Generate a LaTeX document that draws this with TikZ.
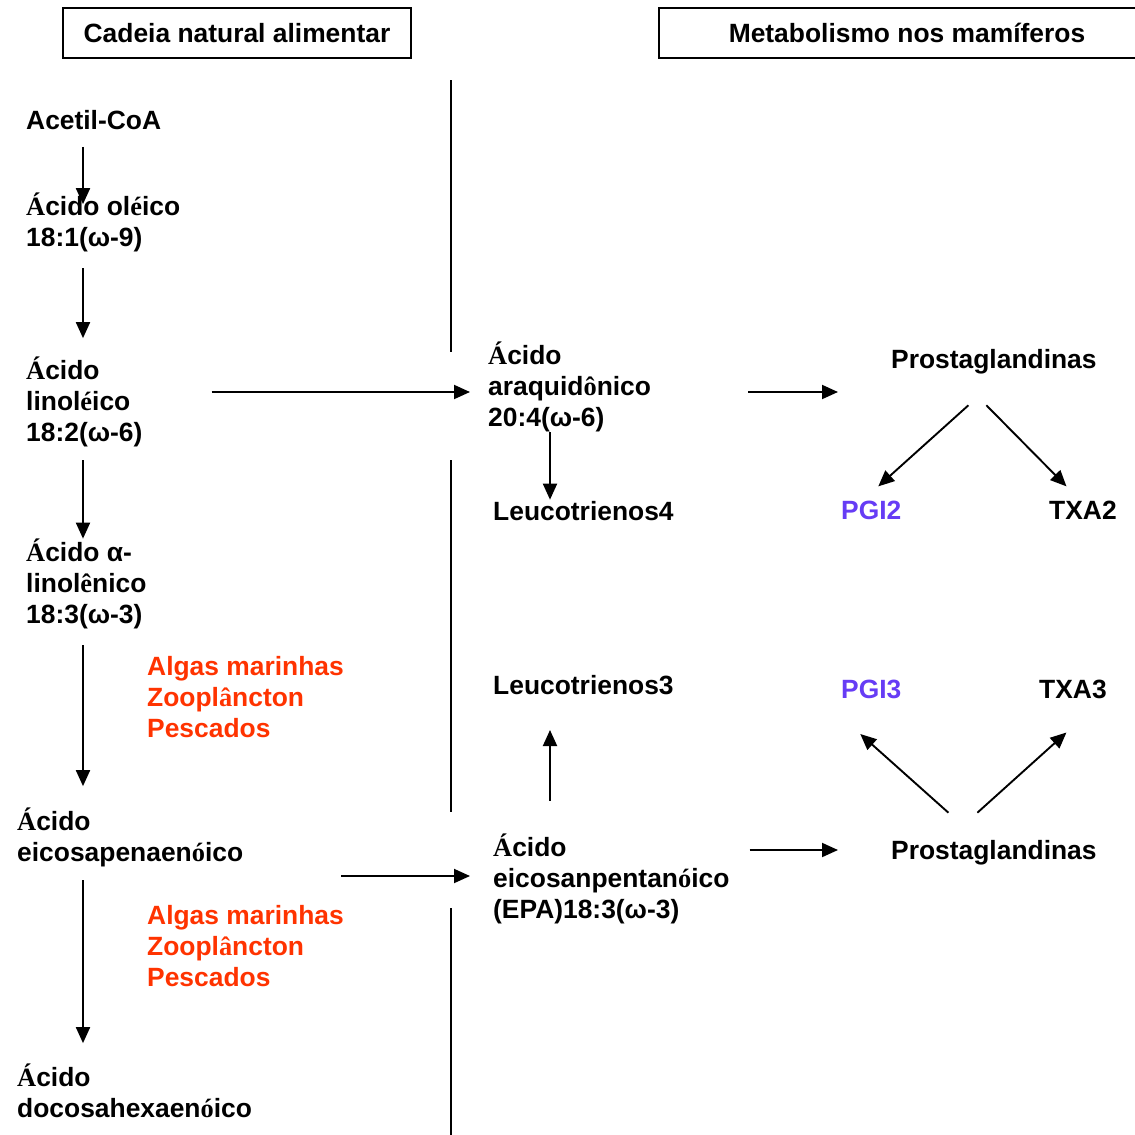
\documentclass[tikz,border=0pt]{standalone}
\usepackage{fontspec}
\setmainfont{Liberation Sans}
\newfontfamily\accfont{Liberation Serif}
\usetikzlibrary{arrows.meta}
\definecolor{fishred}{RGB}{255,51,0}
\definecolor{pgiblue}{RGB}{102,60,245}
\newcommand{\ac}[1]{{\accfont #1}}

\begin{document}
\begin{tikzpicture}[x=1pt, y=-1pt,
    every node/.style={font=\bfseries\fontsize{26.4}{31}\selectfont, inner sep=0pt},
    lbl/.style={anchor=base west, align=left},
    head/.style={draw, line width=1.3pt, minimum height=50pt},
    arr/.style={-{Triangle[length=16pt,width=14pt]}, line width=1.9pt},
    divider/.style={line width=1.4pt}]
  \useasboundingbox (0,0) rectangle (1135,1135);
  % Headers
  \node[head, minimum width=348pt] (hdleft) at (237,33) {Cadeia natural alimentar};
  \node[head, minimum width=496pt] (hdright) at (907,33) {Metabolismo nos mamíferos};
  % Divider
  \draw[divider] (451,80) -- (451,352);
  \draw[divider] (451,460) -- (451,812);
  \draw[divider] (451,908) -- (451,1135);
  % Helper rows and columns
  \coordinate (colA) at (83,0);
  \coordinate (colB) at (550,0);
  \coordinate (rowA) at (0,392);
  \coordinate (rowB) at (0,876);
  \coordinate (rowC) at (0,850);
  % Food chain (nodes sit on the baseline of their last line)
  \node[lbl] (acetil) at (26,129.5) {Acetil-CoA};
  \node[lbl] (oleico) at (26,246.5) {\ac{Á}cido ol\ac{é}ico\\18:1(ω-9)};
  \node[lbl] (linoleico) at (26,441.5) {\ac{Á}cido\\linol\ac{é}ico\\18:2(ω-6)};
  \node[lbl] (alfa) at (26,623.5) {\ac{Á}cido α-\\linol\ac{ê}nico\\18:3(ω-3)};
  \node[lbl, fishred] (srcA) at (147,737.5) {Algas marinhas\\Zoopl\ac{â}ncton\\Pescados};
  \node[lbl] (eicosa) at (17,861.5) {\ac{Á}cido\\eicosapenaen\ac{ó}ico};
  \node[lbl, fishred] (srcB) at (147,986.5) {Algas marinhas\\Zoopl\ac{â}ncton\\Pescados};
  \node[lbl] (docosa) at (17,1117.5) {\ac{Á}cido\\docosahexaen\ac{ó}ico};
  % Mammals
  \node[lbl] (araq) at (488,426.5) {\ac{Á}cido\\araquid\ac{ô}nico\\20:4(ω-6)};
  \node[lbl] (leucoA) at (493,520.5) {Leucotrienos4};
  \node[lbl] (leucoB) at (493,694.5) {Leucotrienos3};
  \node[lbl] (epa) at (493,918.5) {\ac{Á}cido\\eicosanpentan\ac{ó}ico\\(EPA)18:3(ω-3)};
  \node[lbl] (prostaA) at (891,368.5) {Prostaglandinas};
  \node[lbl, pgiblue] (pgiA) at (841,519.5) {PGI2};
  \node[lbl] (txaA) at (1049,519.5) {TXA2};
  \node[lbl, pgiblue] (pgiB) at (841,698.5) {PGI3};
  \node[lbl] (txaB) at (1039,698.5) {TXA3};
  \node[lbl] (prostaB) at (891,859.5) {Prostaglandinas};
  % Arrows, left column
  \draw[arr, shorten <=17pt, shorten >=-11.5pt] (acetil.south -| colA) -- (oleico.north -| colA);
  \draw[arr, shorten <=16pt, shorten >=18.5pt] (oleico.south -| colA) -- (linoleico.north -| colA);
  \draw[arr, shorten <=13pt, shorten >=0pt] (linoleico.south -| colA) -- (alfa.north -| colA);
  \draw[arr, shorten <=16pt, shorten >=21.5pt] (alfa.south -| colA) -- (eicosa.north -| colA);
  \draw[arr, shorten <=13pt, shorten >=20.5pt] (eicosa.south -| colA) -- (docosa.north -| colA);
  % Arrows across
  \draw[arr, shorten <=69pt, shorten >=18pt] (linoleico.east |- rowA) -- (araq.west |- rowA);
  \draw[arr, shorten <=98pt, shorten >=23pt] (eicosa.east |- rowB) -- (epa.west |- rowB);
  \draw[arr, shorten <=97pt, shorten >=53pt] (araq.east |- rowA) -- (prostaA.west |- rowA);
  \draw[arr, shorten <=20pt, shorten >=53pt] (epa.east |- rowC) -- (prostaB.west |- rowC);
  % Leucotrienos
  \draw[arr, shorten <=0pt, shorten >=1.5pt] (araq.south -| colB) -- (leucoA.north -| colB);
  \draw[arr, shorten <=33pt, shorten >=35pt] (epa.north -| colB) -- (leucoB.south -| colB);
  % Prostaglandinas
  \draw[arr] ([shift={(-25.5,31)}]prostaA.south) -- ([shift={(7,-14.5)}]pgiA.north);
  \draw[arr] ([shift={(-7.5,31)}]prostaA.south) -- ([shift={(-16.5,-14.5)}]txaA.north);
  \draw[arr] ([shift={(-45.5,-27.5)}]prostaB.north) -- ([shift={(-11,35)}]pgiB.south);
  \draw[arr] ([shift={(-16.5,-27.5)}]prostaB.north) -- ([shift={(-6.5,33.5)}]txaB.south);
\end{tikzpicture}
\end{document}
